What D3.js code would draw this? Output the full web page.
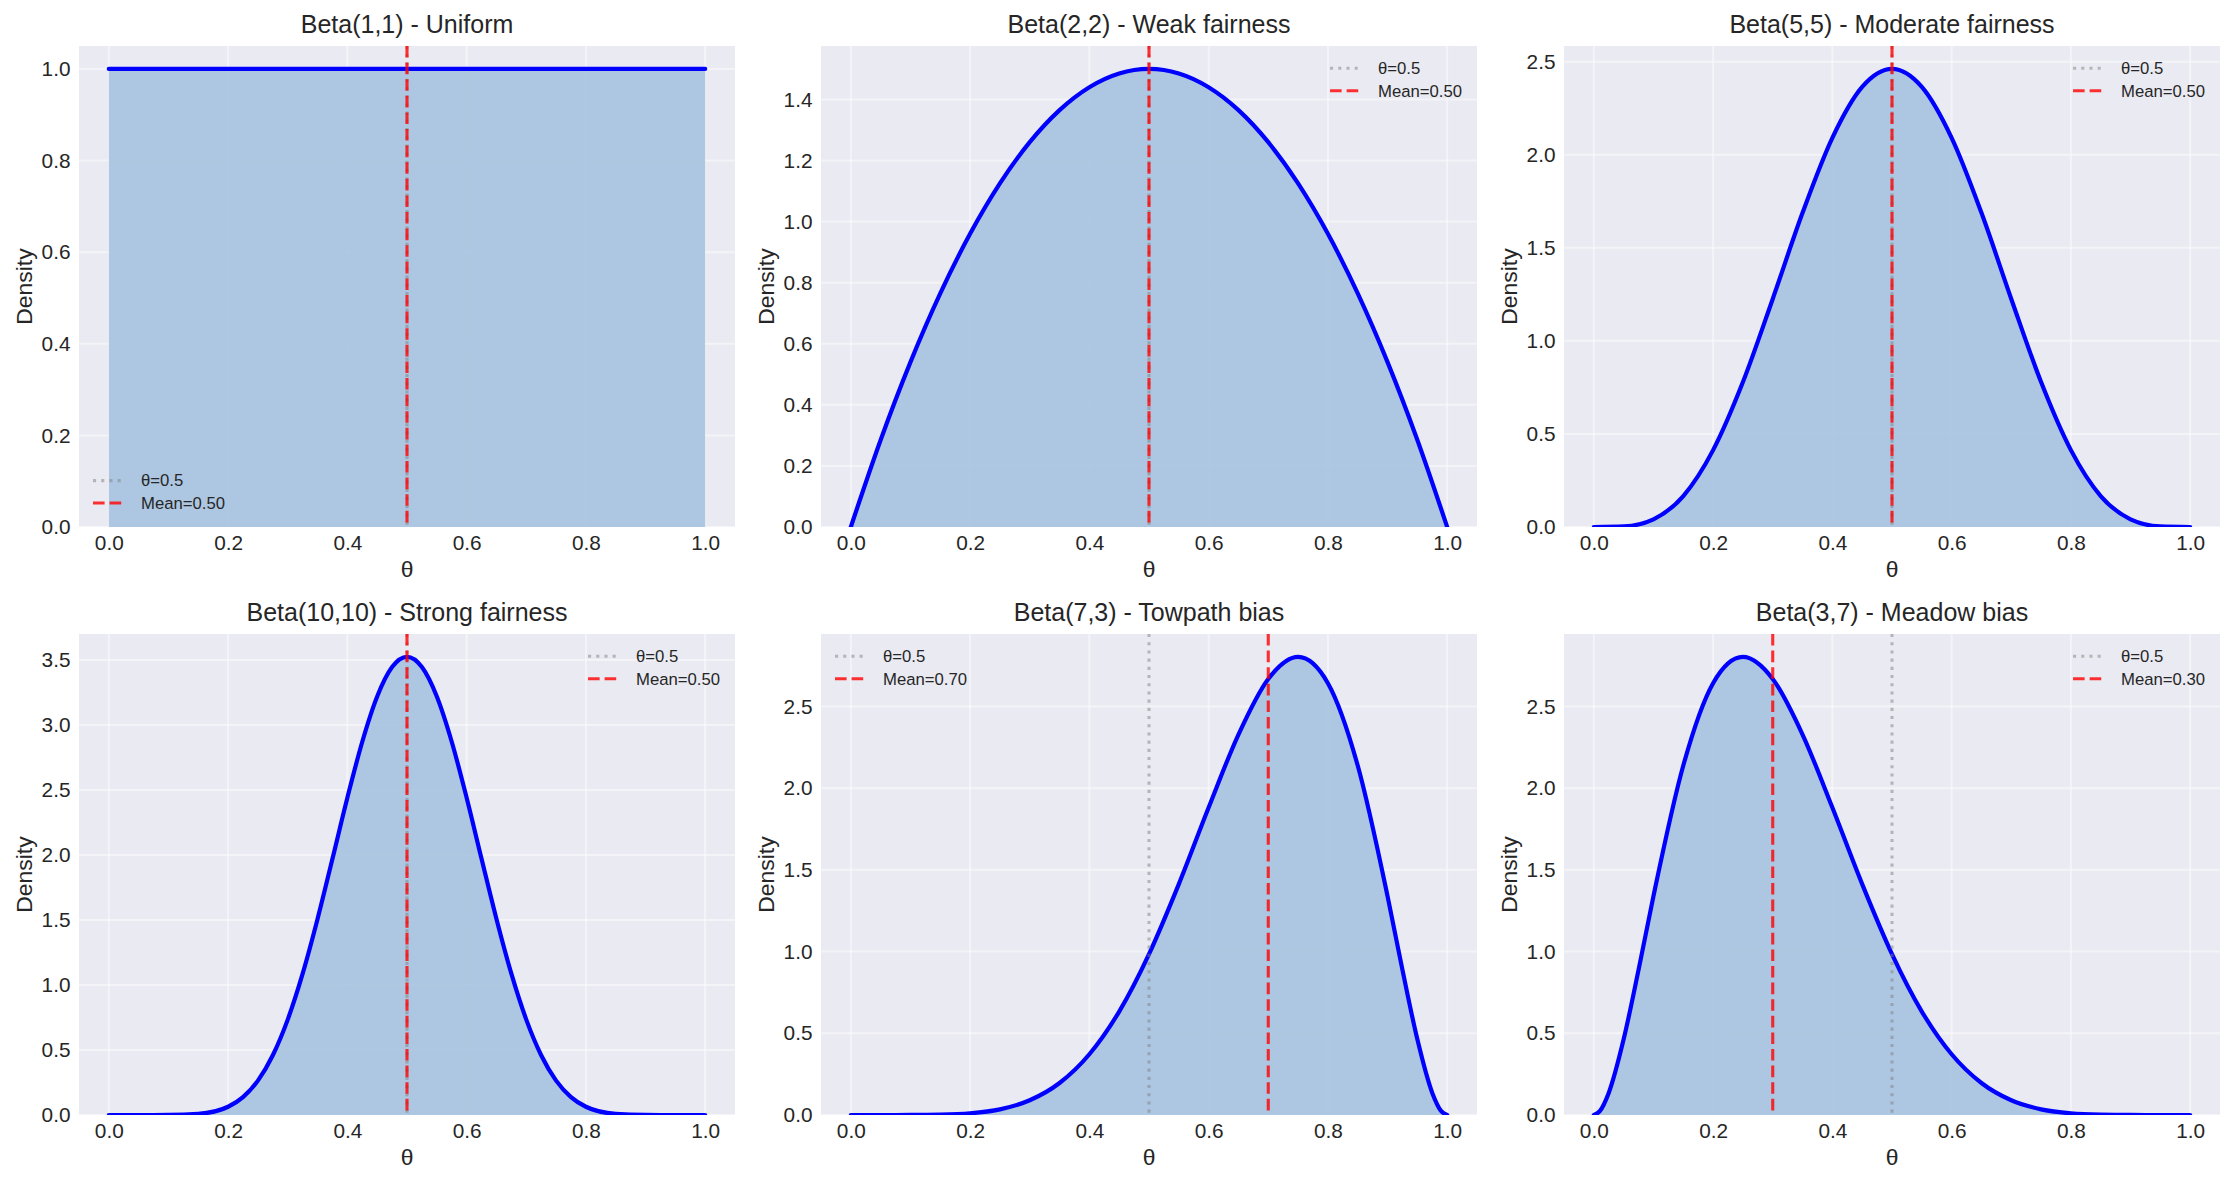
<!DOCTYPE html>
<html>
<head>
<meta charset="utf-8">
<script src="https://cdn.jsdelivr.net/npm/d3@7"></script>
<style>
  body { margin: 0; background: #fff; }
  text { font-family: "Liberation Sans", Arial, sans-serif; fill: #262626; }
</style>
</head>
<body>
<svg id="chart" width="2235" height="1184"></svg>
<script>
// densities
var thetaGrid = [0, 0.05, 0.1, 0.15, 0.2, 0.25, 0.3, 0.35, 0.4, 0.45, 0.5, 0.55, 0.6, 0.65, 0.7, 0.75, 0.8, 0.85, 0.9, 0.95, 1];
var densUniform = [1, 1, 1, 1, 1, 1, 1, 1, 1, 1, 1, 1, 1, 1, 1, 1, 1, 1, 1, 1, 1];
var densWeak = [0, 0.285, 0.54, 0.765, 0.96, 1.125, 1.26, 1.365, 1.44, 1.485, 1.5, 1.485, 1.44, 1.365, 1.26, 1.125, 0.96, 0.765, 0.54, 0.285, 0];
var densModerate = [0, 0.0032, 0.0413, 0.1665, 0.4129, 0.7787, 1.2252, 1.6876, 2.0902, 2.3640, 2.4609, 2.3640, 2.0902, 1.6876, 1.2252, 0.7787, 0.4129, 0.1665, 0.0413, 0.0032, 0];
var thetaStrong = [0, 0.05, 0.1, 0.15, 0.2, 0.225, 0.25, 0.275, 0.3, 0.325, 0.35, 0.375, 0.4, 0.425, 0.45, 0.475, 0.5,
                   0.525, 0.55, 0.575, 0.6, 0.625, 0.65, 0.675, 0.7, 0.725, 0.75, 0.775, 0.8, 0.85, 0.9, 0.95, 1];
var densStrong = [0, 0.000001, 0.00036, 0.0082, 0.0635, 0.1377, 0.2646, 0.4598, 0.7337, 1.0870, 1.5080, 1.9713, 2.4404, 2.8712, 3.2192, 3.4454, 3.5239,
                  3.4454, 3.2192, 2.8712, 2.4404, 1.9713, 1.5080, 1.0870, 0.7337, 0.4598, 0.2646, 0.1377, 0.0635, 0.0082, 0.00036, 0.000001, 0];
var thetaTowpath = [0, 0.05, 0.1, 0.15, 0.2, 0.25, 0.3, 0.35, 0.4, 0.45, 0.5, 0.55, 0.6, 0.65, 0.7, 0.75, 0.8, 0.85, 0.9, 0.925, 0.95, 0.975, 0.99, 1];
var densTowpath = [0, 0.0000036, 0.0002, 0.0021, 0.0103, 0.0346, 0.0900, 0.1957, 0.3716, 0.6330, 0.9844, 1.4126, 1.8812, 2.3282, 2.6683, 2.8032, 2.6424, 2.1384, 1.3392, 0.8879, 0.4631, 0.1353, 0.0237, 0];
var thetaMeadow = [0, 0.01, 0.025, 0.05, 0.075, 0.1, 0.15, 0.2, 0.25, 0.3, 0.35, 0.4, 0.45, 0.5, 0.55, 0.6, 0.65, 0.7, 0.75, 0.8, 0.85, 0.9, 0.95, 1];
var densMeadow = [0, 0.0237, 0.1353, 0.4631, 0.8879, 1.3392, 2.1384, 2.6424, 2.8032, 2.6683, 2.3282, 1.8812, 1.4126, 0.9844, 0.6330, 0.3716, 0.1957, 0.0900, 0.0346, 0.0103, 0.0021, 0.0002, 0.0000036, 0];

var panelTitles = ["Beta(1,1) - Uniform", "Beta(2,2) - Weak fairness", "Beta(5,5) - Moderate fairness",
                   "Beta(10,10) - Strong fairness", "Beta(7,3) - Towpath bias", "Beta(3,7) - Meadow bias"];
var panelMeans = [0.5, 0.5, 0.5, 0.5, 0.7, 0.3];
var xTicks = [0, 0.2, 0.4, 0.6, 0.8, 1.0];
var yTicksUniform = [0, 0.2, 0.4, 0.6, 0.8, 1.0];
var yTicksWeak = [0, 0.2, 0.4, 0.6, 0.8, 1.0, 1.2, 1.4];
var yTicksModerate = [0, 0.5, 1.0, 1.5, 2.0, 2.5];
var yTicksStrong = [0, 0.5, 1.0, 1.5, 2.0, 2.5, 3.0, 3.5];
var yTicksSkew = [0, 0.5, 1.0, 1.5, 2.0, 2.5];

var panels = [
  {theta: thetaGrid, dens: densUniform, yTicks: yTicksUniform, legend: "ll"},
  {theta: thetaGrid, dens: densWeak, yTicks: yTicksWeak, legend: "ur"},
  {theta: thetaGrid, dens: densModerate, yTicks: yTicksModerate, legend: "ur"},
  {theta: thetaStrong, dens: densStrong, yTicks: yTicksStrong, legend: "ur"},
  {theta: thetaTowpath, dens: densTowpath, yTicks: yTicksSkew, legend: "ul"},
  {theta: thetaMeadow, dens: densMeadow, yTicks: yTicksSkew, legend: "ur"}
];

var colLeft = [79, 821, 1564], rowTop = [46, 634];
var W = 656, H = 481;
var svg = d3.select("#chart");

function drawLegend(g, label, pos) {
  var items = [{text: "θ=0.5", color: "rgba(128,128,128,0.5)", dash: "3.1,5.1"},
               {text: label, color: "rgba(255,0,0,0.8)", dash: "11.6,5"}];
  var rowsY = pos === "ll" ? [H - 46.4, H - 24] : [22.3, 44.7];
  var lg = g.append("g");
  var texts = items.map(function(it, i) {
    return lg.append("text").attr("y", rowsY[i]).attr("dy", "0.35em")
      .attr("font-size", "16.7px").text(it.text);
  });
  var maxW = d3.max(texts, function(t) { return t.node().getComputedTextLength(); });
  var textX = pos === "ur" ? W - 15 - maxW : 62;
  texts.forEach(function(t) { t.attr("x", textX); });
  items.forEach(function(it, i) {
    lg.append("line").attr("x1", textX - 48).attr("x2", textX - 18)
      .attr("y1", rowsY[i]).attr("y2", rowsY[i])
      .attr("stroke", it.color).attr("stroke-width", 3.1).attr("stroke-dasharray", it.dash);
  });
}

panels.forEach(function(p, i) {
  var left = colLeft[i % 3], top = rowTop[Math.floor(i / 3)];
  var g = svg.append("g").attr("transform", "translate(" + left + "," + top + ")");
  var x = d3.scaleLinear().domain([-0.05, 1.05]).range([0, W]);
  var y = d3.scaleLinear().domain([0, d3.max(p.dens) * 1.05]).range([H, 0]);
  var pts = p.theta.map(function(t, k) { return [t, p.dens[k]]; });
  var clipId = "clip-" + i;

  g.append("clipPath").attr("id", clipId).append("rect").attr("width", W).attr("height", H);
  g.append("rect").attr("width", W).attr("height", H).attr("fill", "#eaeaf2");

  // grid
  g.selectAll(".gx").data(xTicks).enter().append("line")
    .attr("x1", function(d) { return x(d); }).attr("x2", function(d) { return x(d); })
    .attr("y1", 0).attr("y2", H).attr("stroke", "#fff").attr("stroke-opacity", 0.45).attr("stroke-width", 2);
  g.selectAll(".gy").data(p.yTicks).enter().append("line")
    .attr("y1", function(d) { return y(d); }).attr("y2", function(d) { return y(d); })
    .attr("x1", 0).attr("x2", W).attr("stroke", "#fff").attr("stroke-opacity", 0.45).attr("stroke-width", 2);

  var plot = g.append("g").attr("clip-path", "url(#" + clipId + ")");
  plot.append("path").datum(pts)
    .attr("d", d3.area().x(function(d) { return x(d[0]); }).y0(y(0)).y1(function(d) { return y(d[1]); })
      .curve(d3.curveMonotoneX))
    .attr("fill", "rgb(158,189,220)").attr("fill-opacity", 0.8);
  plot.append("path").datum(pts)
    .attr("d", d3.line().x(function(d) { return x(d[0]); }).y(function(d) { return y(d[1]); })
      .curve(d3.curveMonotoneX))
    .attr("fill", "none").attr("stroke", "#0000ff").attr("stroke-width", 4.2).attr("stroke-linecap", "round");
  plot.append("line").attr("x1", x(0.5)).attr("x2", x(0.5)).attr("y1", 0).attr("y2", H)
    .attr("stroke", "rgba(128,128,128,0.5)").attr("stroke-width", 3.1).attr("stroke-dasharray", "3.1,5.1");
  plot.append("line").attr("x1", x(panelMeans[i])).attr("x2", x(panelMeans[i])).attr("y1", 0).attr("y2", H)
    .attr("stroke", "rgba(255,0,0,0.8)").attr("stroke-width", 3.1).attr("stroke-dasharray", "11.6,5");

  // axes
  var xAxis = g.append("g").attr("transform", "translate(0," + H + ")")
    .call(d3.axisBottom(x).tickValues(xTicks).tickFormat(d3.format(".1f")).tickSize(0).tickPadding(8));
  var yAxis = g.append("g")
    .call(d3.axisLeft(y).tickValues(p.yTicks).tickFormat(d3.format(".1f")).tickSize(0).tickPadding(8.5));
  [xAxis, yAxis].forEach(function(a) {
    a.select(".domain").remove();
    a.selectAll("text").attr("font-size", "20.8px").attr("font-family", null).attr("fill", "#262626");
  });

  g.append("text").attr("x", W / 2).attr("y", -13).attr("text-anchor", "middle")
    .attr("font-size", "25px").text(panelTitles[i]);
  g.append("text").attr("x", W / 2).attr("y", H + 50).attr("text-anchor", "middle")
    .attr("font-size", "22.9px").text("θ");
  g.append("text").attr("transform", "translate(-55," + (H / 2) + ") rotate(-90)")
    .attr("text-anchor", "middle").attr("dy", "0.35em").attr("font-size", "22.9px").text("Density");

  drawLegend(g, "Mean=" + panelMeans[i].toFixed(2), p.legend);
});
</script>
</body>
</html>
